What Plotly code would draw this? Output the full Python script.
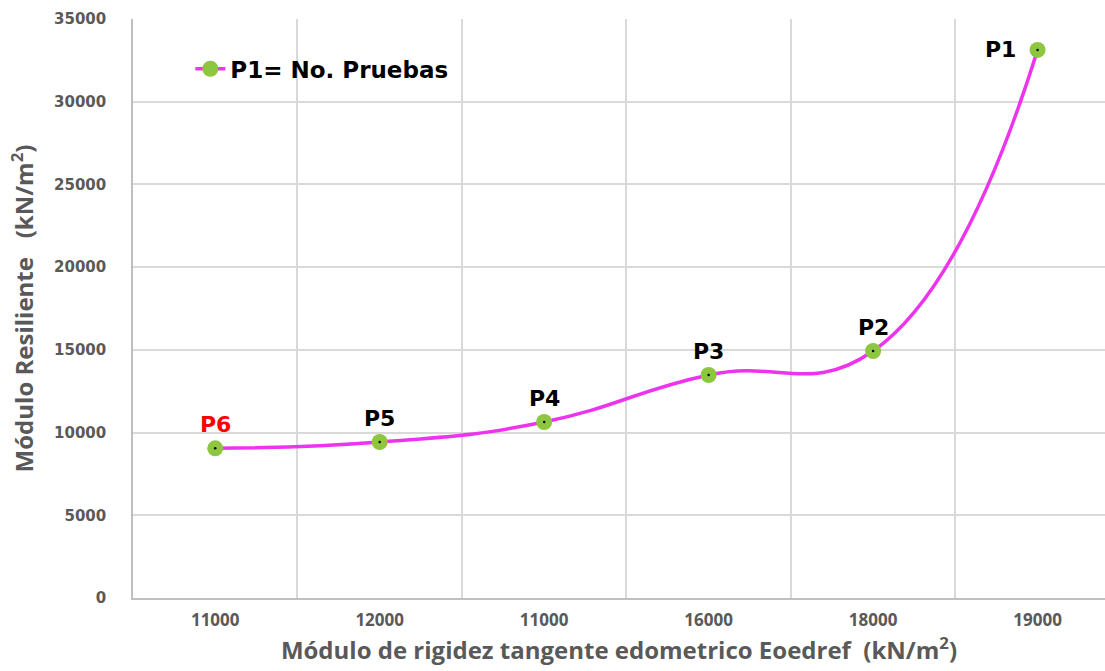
import plotly.graph_objects as go

# datos
etiquetas_x = ["11000", "12000", "11000", "16000", "18000", "19000"]
modulo_resiliente = [9050, 9430, 10640, 13480, 14930, 33130]
pruebas = ["P6", "P5", "P4", "P3", "P2", "P1"]
color_etiqueta = ["red", "black", "black", "black", "black", "black"]

pos = list(range(len(etiquetas_x)))

fig = go.Figure()

# curva suavizada con marcadores verdes
fig.add_trace(go.Scatter(
    x=pos, y=modulo_resiliente,
    mode="lines+markers",
    name="P1= No. Pruebas",
    line=dict(color="#ee33ee", width=3.5, shape="spline", smoothing=1.3),
    marker=dict(color="#8dc63f", size=16, line=dict(width=0)),
))

# punto negro al centro de cada marcador
fig.add_trace(go.Scatter(
    x=pos, y=modulo_resiliente,
    mode="markers",
    marker=dict(color="black", size=2.5),
    showlegend=False, hoverinfo="skip",
))

fuente_bold = "DejaVu Sans"

for i, (p, c) in enumerate(zip(pruebas, color_etiqueta)):
    if p == "P1":
        fig.add_annotation(x=pos[i], y=modulo_resiliente[i], text="<b>P1</b>",
                           showarrow=False, xanchor="right", xshift=-20, yshift=0,
                           font=dict(size=22, color=c, family=fuente_bold))
    else:
        fig.add_annotation(x=pos[i], y=modulo_resiliente[i], text="<b>%s</b>" % p,
                           showarrow=False, yanchor="bottom", yshift=9,
                           font=dict(size=22, color=c, family=fuente_bold))

gris = "#595959"

fig.update_layout(
    width=1105, height=671,
    margin=dict(l=133, r=0, t=19, b=73, autoexpand=False),
    plot_bgcolor="white", paper_bgcolor="white",
    font=dict(family="Open Sans", color=gris),
    legend=dict(x=0.059, y=0.914, xanchor="left", yanchor="middle",
                bgcolor="rgba(0,0,0,0)",
                font=dict(size=23, color="black", family=fuente_bold, weight="bold")),
    xaxis=dict(
        # el grafico original esta recortado a la derecha
        range=[-0.5, 5.41],
        tickmode="array", tickvals=pos, ticktext=etiquetas_x,
        tickfont=dict(size=17, color=gris, weight="bold"),
        showgrid=False, zeroline=False,
        showline=True, linecolor="#bfbfbf", linewidth=1.5,
        ticks="", ticklabelstandoff=6,
        minor=dict(tick0=0.5, dtick=1, showgrid=True, gridcolor="#d9d9d9", gridwidth=1.5),
        title=dict(text="Módulo de rigidez tangente edometrico Eoedref  (kN/m<sup>2</sup>)",
                   font=dict(size=24, color=gris, weight="bold"), standoff=6),
    ),
    yaxis=dict(
        range=[0, 35000], dtick=5000, tickformat="d",
        tickfont=dict(size=15, color=gris, family="DejaVu Sans", weight="bold"),
        showgrid=True, gridcolor="#d9d9d9", gridwidth=1.5,
        zeroline=False, showline=True, linecolor="#bfbfbf", linewidth=1.5,
        ticks="", ticklabelstandoff=22,
        title=dict(text="Módulo Resiliente   (kN/m<sup>2</sup>)",
                   font=dict(size=24, color=gris, weight="bold"), standoff=14),
    ),
)

# quitar el margen por defecto del body para que la figura llene la ventana
fig.write_html("out.html", config={"displayModeBar": False},
               post_script="document.body.style.margin='0';document.body.style.overflow='hidden';")
